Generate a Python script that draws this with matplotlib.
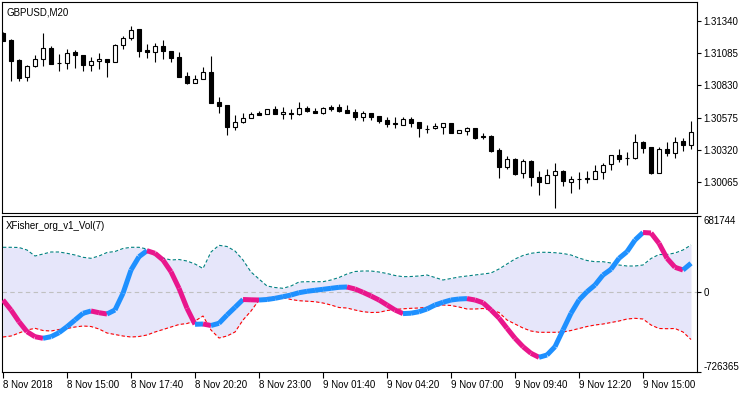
import numpy as np
import matplotlib.pyplot as plt

plt.rcParams['font.family'] = ['Liberation Sans', 'DejaVu Sans']
plt.rcParams['font.size'] = 7

symbol = 'GBPUSD,M20'
ind_name = 'XFisher_org_v1_Vol(7)'

# GBPUSD M20 candles, 8 Nov 12:20 -> 9 Nov 15:00
opens = [1.31245, 1.31190, 1.31031, 1.30896, 1.30984, 1.31039, 1.31126, 1.31007, 1.31007, 1.31094,
         1.31071, 1.30992, 1.31023, 1.31039, 1.31015, 1.31150, 1.31205, 1.31277, 1.31110, 1.31094,
         1.31142, 1.31102, 1.31055, 1.30904, 1.30849, 1.30881, 1.30936, 1.30698, 1.30675, 1.30500,
         1.30540, 1.30572, 1.30611, 1.30603, 1.30643, 1.30603, 1.30611, 1.30603, 1.30651, 1.30627,
         1.30611, 1.30659, 1.30659, 1.30635, 1.30619, 1.30580, 1.30611, 1.30588, 1.30556, 1.30532,
         1.30516, 1.30564, 1.30540, 1.30485, 1.30493, 1.30500, 1.30532, 1.30453, 1.30469, 1.30493,
         1.30429, 1.30429, 1.30318, 1.30184, 1.30247, 1.30136, 1.30231, 1.30104, 1.30057, 1.30120,
         1.30152, 1.30065, 1.30089, 1.30097, 1.30089, 1.30144, 1.30207, 1.30279, 1.30255, 1.30255,
         1.30382, 1.30342, 1.30136, 1.30326, 1.30295, 1.30390, 1.30358]
highs = [1.31253, 1.31197, 1.31039, 1.30992, 1.31071, 1.31245, 1.31142, 1.31079, 1.31118, 1.31110,
         1.31071, 1.31055, 1.31087, 1.31039, 1.31158, 1.31221, 1.31300, 1.31277, 1.31158, 1.31166,
         1.31190, 1.31102, 1.31094, 1.30936, 1.30912, 1.30976, 1.31063, 1.30738, 1.30675, 1.30595,
         1.30611, 1.30619, 1.30627, 1.30643, 1.30667, 1.30659, 1.30643, 1.30698, 1.30667, 1.30651,
         1.30659, 1.30675, 1.30683, 1.30675, 1.30643, 1.30627, 1.30611, 1.30588, 1.30580, 1.30580,
         1.30580, 1.30580, 1.30540, 1.30516, 1.30532, 1.30532, 1.30532, 1.30477, 1.30500, 1.30493,
         1.30453, 1.30437, 1.30334, 1.30271, 1.30255, 1.30247, 1.30239, 1.30152, 1.30168, 1.30215,
         1.30160, 1.30112, 1.30144, 1.30152, 1.30199, 1.30215, 1.30279, 1.30326, 1.30302, 1.30445,
         1.30390, 1.30342, 1.30342, 1.30382, 1.30421, 1.30413, 1.30548]
lows = [1.31182, 1.30865, 1.30865, 1.30865, 1.30976, 1.30984, 1.30999, 1.30944, 1.30960, 1.30968,
        1.30944, 1.30944, 1.30960, 1.30896, 1.31015, 1.31118, 1.31190, 1.31055, 1.31047, 1.31015,
        1.31039, 1.31015, 1.30896, 1.30841, 1.30849, 1.30881, 1.30691, 1.30611, 1.30437, 1.30477,
        1.30532, 1.30572, 1.30595, 1.30603, 1.30603, 1.30564, 1.30564, 1.30595, 1.30619, 1.30611,
        1.30603, 1.30627, 1.30619, 1.30611, 1.30556, 1.30548, 1.30556, 1.30532, 1.30500, 1.30493,
        1.30516, 1.30500, 1.30421, 1.30453, 1.30485, 1.30445, 1.30453, 1.30453, 1.30437, 1.30405,
        1.30405, 1.30302, 1.30097, 1.30168, 1.30120, 1.30097, 1.30033, 1.29962, 1.30057, 1.29859,
        1.30033, 1.29978, 1.30009, 1.30057, 1.30089, 1.30089, 1.30160, 1.30223, 1.30199, 1.30247,
        1.30295, 1.30128, 1.30136, 1.30271, 1.30255, 1.30310, 1.30326]
closes = [1.31182, 1.31023, 1.30889, 1.30984, 1.31039, 1.31126, 1.30999, 1.31010, 1.31087, 1.31071,
          1.30992, 1.31023, 1.31039, 1.31015, 1.31150, 1.31205, 1.31269, 1.31102, 1.31094, 1.31142,
          1.31102, 1.31047, 1.30896, 1.30849, 1.30881, 1.30936, 1.30691, 1.30667, 1.30500, 1.30540,
          1.30572, 1.30603, 1.30595, 1.30643, 1.30603, 1.30619, 1.30603, 1.30651, 1.30627, 1.30611,
          1.30651, 1.30643, 1.30627, 1.30611, 1.30580, 1.30611, 1.30580, 1.30548, 1.30524, 1.30524,
          1.30564, 1.30532, 1.30493, 1.30485, 1.30508, 1.30532, 1.30453, 1.30477, 1.30493, 1.30413,
          1.30421, 1.30310, 1.30184, 1.30247, 1.30128, 1.30231, 1.30104, 1.30065, 1.30120, 1.30152,
          1.30073, 1.30089, 1.30089, 1.30089, 1.30152, 1.30199, 1.30279, 1.30247, 1.30255, 1.30382,
          1.30334, 1.30136, 1.30326, 1.30295, 1.30382, 1.30358, 1.30461]

# XFisher values (thousands)
fisher = [-76.5, -166.7, -272.3, -362.6, -407.7, -422.2, -407.7, -371.6, -317.5, -257.0,
          -196.5, -175.8, -191.1, -202.8, -166.7, -16.0, 194.3, 314.3, 368.5, 345.0,
          284.6, 179.0, 29.1, -151.4, -295.8, -293.1, -306.6, -286.8, -211.9, -142.4,
          -72.0, -74.7, -76.5, -72.0, -61.1, -46.7, -31.4, -10.6, 2.0, 11.1,
          20.1, 29.1, 38.1, 40.9, 22.8, -7.0, -40.4, -76.5, -121.6, -166.7,
          -199.2, -195.6, -182.1, -157.7, -121.6, -97.2, -76.5, -67.5, -63.8, -76.5,
          -100.9, -166.7, -239.0, -331.9, -422.2, -498.0, -557.6, -593.7, -572.9, -498.0,
          -347.3, -196.5, -76.5, -1.6, 58.9, 149.2, 200.6, 299.9, 359.5, 465.1,
          532.8, 528.3, 435.3, 299.9, 218.7, 194.3, 254.8]
upper = [399.2, 399.2, 397.4, 374.8, 320.7, 338.7, 356.8, 356.8, 345.0, 329.7,
         308.9, 299.9, 320.7, 352.3, 361.3, 388.4, 399.2, 399.2, 383.8, 347.7,
         302.6, 284.6, 289.1, 275.5, 248.5, 207.8, 356.8, 417.2, 406.4, 365.8,
         284.6, 176.2, 113.1, 49.9, 36.3, 29.1, 49.9, 86.0, 88.7, 88.7,
         88.7, 104.0, 126.6, 158.2, 180.7, 185.3, 185.3, 176.2, 162.7, 144.7,
         133.8, 135.6, 140.1, 149.2, 126.6, 104.0, 117.6, 131.1, 140.1, 149.2,
         158.2, 167.2, 203.3, 248.5, 293.6, 325.2, 345.0, 354.1, 354.1, 350.4,
         343.2, 329.7, 302.6, 280.0, 269.2, 269.2, 257.5, 239.4, 230.4, 230.4,
         239.4, 298.1, 334.2, 334.2, 347.7, 374.8, 419.9]
lower = [-410.4, -401.4, -374.3, -347.3, -331.9, -351.8, -356.3, -342.8, -333.7, -320.2,
         -311.2, -315.7, -338.2, -374.3, -387.9, -401.4, -410.4, -405.9, -392.4, -365.3,
         -342.8, -320.2, -297.6, -288.6, -266.0, -220.9, -347.3, -419.5, -401.4, -365.3,
         -257.0, -175.8, -76.5, -53.9, -52.1, -53.9, -72.0, -82.8, -87.3, -91.8,
         -103.6, -121.6, -144.2, -148.7, -166.7, -182.1, -189.3, -187.5, -171.3, -162.2,
         -155.9, -151.4, -148.7, -142.4, -135.2, -121.6, -126.1, -139.7, -157.7, -157.7,
         -153.2, -166.7, -189.3, -257.0, -293.1, -329.2, -356.3, -368.0, -368.0, -368.0,
         -365.3, -351.8, -333.7, -315.7, -302.1, -293.1, -279.6, -266.0, -248.0, -241.7,
         -248.0, -302.1, -333.7, -335.5, -333.7, -365.3, -433.0]

time_labels = ['8 Nov 2018', '8 Nov 15:00', '8 Nov 17:40', '8 Nov 20:20', '8 Nov 23:00',
               '9 Nov 01:40', '9 Nov 04:20', '9 Nov 07:00', '9 Nov 09:40', '9 Nov 12:20',
               '9 Nov 15:00']
time_label_bars = [0, 8, 16, 24, 32, 40, 48, 56, 64, 72, 80]
price_ticks = [1.30065, 1.30320, 1.30575, 1.30830, 1.31085, 1.31340]
ind_max = 681744
ind_min = -726365

W, H = 750, 394
fig = plt.figure(figsize=(W / 100, H / 100), dpi=100)
ax1 = fig.add_axes([2 / W, 1 - 213 / H, 695 / W, 211 / H])
ax2 = fig.add_axes([2 / W, 1 - 372 / H, 695 / W, 156 / H])

x = np.arange(len(opens))
o = np.array(opens)
h = np.array(highs)
l = np.array(lows)
c = np.array(closes)

# candles
ax1.vlines(x, l, h, color='black', lw=0.8, zorder=2)
body_lo = np.minimum(o, c)
body_h = np.maximum(np.abs(c - o), 1e-6)
body_col = ['white' if cc >= oo else 'black' for oo, cc in zip(o, c)]
ax1.bar(x, body_h, bottom=body_lo, width=0.5, color=body_col,
        edgecolor='black', lw=0.8, zorder=3)
ax1.set_xlim(-0.125, 86.75)
ax1.set_ylim(1.29819, 1.31491)
ax1.yaxis.tick_right()
ax1.set_yticks(price_ticks)
ax1.set_yticklabels([f'{p:.5f}' for p in price_ticks])
ax1.tick_params(axis='y', length=3, width=0.8, pad=1.5)
ax1.tick_params(axis='x', length=0, labelbottom=False)
ax1.text(0.006, 0.975, symbol, transform=ax1.transAxes, va='top', ha='left')

# indicator
f = np.array(fisher) * 1000
up_band = np.array(upper) * 1000
lo_band = np.array(lower) * 1000
ax2.fill_between(x, lo_band, up_band, color='#E6E6FA', lw=0, zorder=1)
ax2.axhline(0, color='#C0C0C0', ls=(0, (4, 3)), lw=0.8, zorder=2)
ax2.plot(x, up_band, color='#008080', ls=(0, (3, 2)), lw=0.8, zorder=3)
ax2.plot(x, lo_band, color='#FF0000', ls=(0, (3, 2)), lw=0.8, zorder=3)
for i in range(1, len(f)):
    col = '#1E90FF' if f[i] >= f[i - 1] else '#E9168C'
    ax2.plot([i - 1, i], [f[i - 1], f[i]], color=col, lw=3.6,
             solid_capstyle='butt', zorder=4)
ax2.set_xlim(-0.125, 86.75)
ax2.set_ylim(ind_min, ind_max)
ax2.yaxis.tick_right()
ax2.set_yticks([ind_max, 0, ind_min])
ylab = ax2.set_yticklabels([str(ind_max), '0', str(ind_min)])
ylab[0].set_va('top')
ylab[2].set_va('bottom')
ax2.tick_params(axis='y', length=3, width=0.8, pad=1.5)
ax2.set_xticks(time_label_bars)
ax2.set_xticklabels(time_labels, ha='left')
ax2.tick_params(axis='x', length=4, width=0.8, pad=1.5)
ax2.text(0.006, 0.965, ind_name, transform=ax2.transAxes, va='top', ha='left')

for ax in (ax1, ax2):
    for s in ax.spines.values():
        s.set_linewidth(0.8)
        s.set_color('black')

fig.savefig('out.png', dpi=100, facecolor='white')
